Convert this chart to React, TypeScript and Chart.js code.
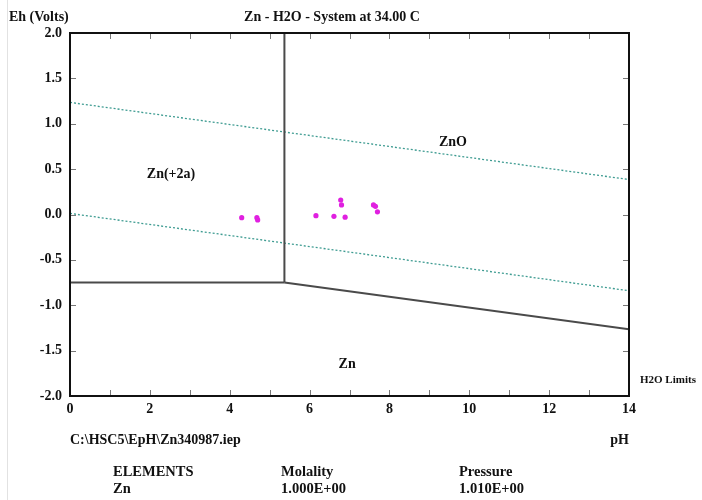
import React, { useEffect, useRef } from "react";
import { Chart, registerables } from "chart.js";

Chart.register(...registerables);

// ---- data ----
const titleText = "Zn - H2O - System at 34.00 C";
const yAxisTitle = "Eh (Volts)";
const xAxisTitle = "pH";
const fileLabel = "C:\\HSC5\\EpH\\Zn340987.iep";
const limitsLabel = "H2O Limits";

const phMin = 0;
const phMax = 14;
const ehMin = -2;
const ehMax = 2;
const phLabelStep = 2;
const ehLabelStep = 0.5;
const phMinorTicks = [1, 2, 3, 4, 5, 6, 7, 8, 9, 10, 11, 12, 13];
const ehMinorTicks = [-1.5, -1.0, -0.5, 0.0, 0.5, 1.0, 1.5];

// phase boundaries (pH, Eh)
const boundaryZnZn2PH = [0, 5.37];
const boundaryZnZn2Eh = [-0.75, -0.75];
const boundaryZn2ZnOPH = [5.37, 5.37];
const boundaryZn2ZnOEh = [2.0, -0.75];
const boundaryZnZnOPH = [5.37, 14];
const boundaryZnZnOEh = [-0.75, -1.265];

// water stability limits
const h2oUpperPH = [0, 14];
const h2oUpperEh = [1.235, 0.385];
const h2oLowerPH = [0, 14];
const h2oLowerEh = [0.012, -0.84];

// measured samples
const samplePH = [4.3, 4.68, 4.7, 6.16, 6.61, 6.89, 6.78, 6.8, 7.6, 7.65, 7.7];
const sampleEh = [-0.035, -0.035, -0.06, -0.013, -0.02, -0.03, 0.16, 0.105, 0.105, 0.09, 0.03];

// region labels
const regionNames = ["Zn(+2a)", "ZnO", "Zn"];
const regionPH = [2.53, 9.59, 6.94];
const regionEh = [0.44, 0.79, -1.65];

// table below the chart
const tableHeaders = ["ELEMENTS", "Molality", "Pressure"];
const tableValues = ["Zn", "1.000E+00", "1.010E+00"];

const pts = (xs: number[], ys: number[]) => xs.map((x, i) => ({ x, y: ys[i] }));

const FONT = "'Liberation Serif', 'Times New Roman', serif";

const framePlugin = {
  id: "frameAndText",
  afterDatasetsDraw(chart: any) {
    const { ctx, chartArea, scales } = chart;
    const { left, right, top, bottom } = chartArea;
    const xs = scales.x;
    const ys = scales.y;
    ctx.save();
    // inward ticks
    ctx.strokeStyle = "#777";
    ctx.lineWidth = 1;
    ctx.beginPath();
    phMinorTicks.forEach((v) => {
      const px = Math.round(xs.getPixelForValue(v)) + 0.5;
      ctx.moveTo(px, top);
      ctx.lineTo(px, top + 6);
      ctx.moveTo(px, bottom);
      ctx.lineTo(px, bottom - 6);
    });
    ehMinorTicks.forEach((v) => {
      const py = Math.round(ys.getPixelForValue(v)) + 0.5;
      ctx.moveTo(left, py);
      ctx.lineTo(left + 6, py);
      ctx.moveTo(right, py);
      ctx.lineTo(right - 6, py);
    });
    ctx.stroke();
    // frame
    ctx.strokeStyle = "#111";
    ctx.lineWidth = 2;
    ctx.strokeRect(left, top, right - left, bottom - top);

    // region labels
    ctx.fillStyle = "#111";
    ctx.textAlign = "center";
    ctx.textBaseline = "middle";
    ctx.font = `bold 14px ${FONT}`;
    regionNames.forEach((n, i) => {
      ctx.fillText(n, xs.getPixelForValue(regionPH[i]), ys.getPixelForValue(regionEh[i]));
    });

    // title and axis titles
    ctx.fillText(titleText, 332, 17);
    ctx.textAlign = "left";
    ctx.fillText(yAxisTitle, 9, 17);
    ctx.fillText(fileLabel, 70, 440);
    ctx.textAlign = "right";
    ctx.fillText(xAxisTitle, right, 440);

    ctx.textAlign = "left";
    ctx.font = `bold 11px ${FONT}`;
    ctx.fillText(limitsLabel, 640, 380);

    ctx.font = `bold 14.5px ${FONT}`;
    const cols = [113, 281, 459];
    tableHeaders.forEach((h, i) => ctx.fillText(h, cols[i], 472));
    tableValues.forEach((v, i) => ctx.fillText(v, cols[i], 489));

    // faint page border
    ctx.strokeStyle = "#e2e2e2";
    ctx.lineWidth = 1;
    ctx.beginPath();
    ctx.moveTo(7.5, 0);
    ctx.lineTo(7.5, 500);
    ctx.stroke();
    ctx.restore();
  },
};

export default function App() {
  const ref = useRef<HTMLCanvasElement | null>(null);
  useEffect(() => {
    if (!ref.current) return;
    const boundaryStyle = {
      showLine: true,
      borderColor: "#4a4a4a",
      borderWidth: 2,
      pointRadius: 0,
      fill: false,
    };
    const waterStyle = {
      showLine: true,
      borderColor: "#3f9c92",
      borderWidth: 1.3,
      borderDash: [2, 2],
      pointRadius: 0,
      fill: false,
    };
    const chart = new Chart(ref.current, {
      type: "scatter",
      data: {
        datasets: [
          { label: "Zn/Zn(+2a)", data: pts(boundaryZnZn2PH, boundaryZnZn2Eh), ...boundaryStyle },
          { label: "Zn(+2a)/ZnO", data: pts(boundaryZn2ZnOPH, boundaryZn2ZnOEh), ...boundaryStyle },
          { label: "Zn/ZnO", data: pts(boundaryZnZnOPH, boundaryZnZnOEh), ...boundaryStyle },
          { label: "H2O upper", data: pts(h2oUpperPH, h2oUpperEh), ...waterStyle },
          { label: "H2O lower", data: pts(h2oLowerPH, h2oLowerEh), ...waterStyle },
          {
            label: "Samples",
            data: pts(samplePH, sampleEh),
            showLine: false,
            pointRadius: 2.6,
            pointBorderWidth: 0,
            pointBackgroundColor: "#e020e0",
            pointBorderColor: "#e020e0",
          },
        ],
      },
      options: {
        animation: false,
        responsive: false,
        maintainAspectRatio: false,
        layout: { padding: { top: 33, right: 73, bottom: 0, left: 0 } },
        plugins: {
          legend: { display: false },
          title: { display: false },
          tooltip: { enabled: false },
        },
        scales: {
          x: {
            type: "linear",
            min: phMin,
            max: phMax,
            grid: { display: false, drawTicks: false },
            border: { display: true, color: "#111", width: 2 },
            ticks: {
              stepSize: phLabelStep,
              color: "#111",
              padding: 5,
              font: { family: FONT, size: 14, weight: "bold" },
              callback: (v: any) => String(v),
            },
            afterFit: (s: any) => {
              s.height = 104;
            },
          },
          y: {
            type: "linear",
            min: ehMin,
            max: ehMax,
            grid: { display: false, drawTicks: false },
            border: { display: true, color: "#111", width: 2 },
            ticks: {
              stepSize: ehLabelStep,
              color: "#111",
              padding: 8,
              font: { family: FONT, size: 14, weight: "bold" },
              callback: (v: any) => Number(v).toFixed(1),
            },
            afterFit: (s: any) => {
              s.width = 70;
            },
          },
        },
      },
      plugins: [framePlugin],
    });
    return () => chart.destroy();
  }, []);
  return (
    <div style={{ position: "absolute", left: 0, top: 0, width: 702, height: 500, background: "#fff" }}>
      <canvas ref={ref} width={702} height={500} style={{ width: 702, height: 500, display: "block" }} />
    </div>
  );
}
